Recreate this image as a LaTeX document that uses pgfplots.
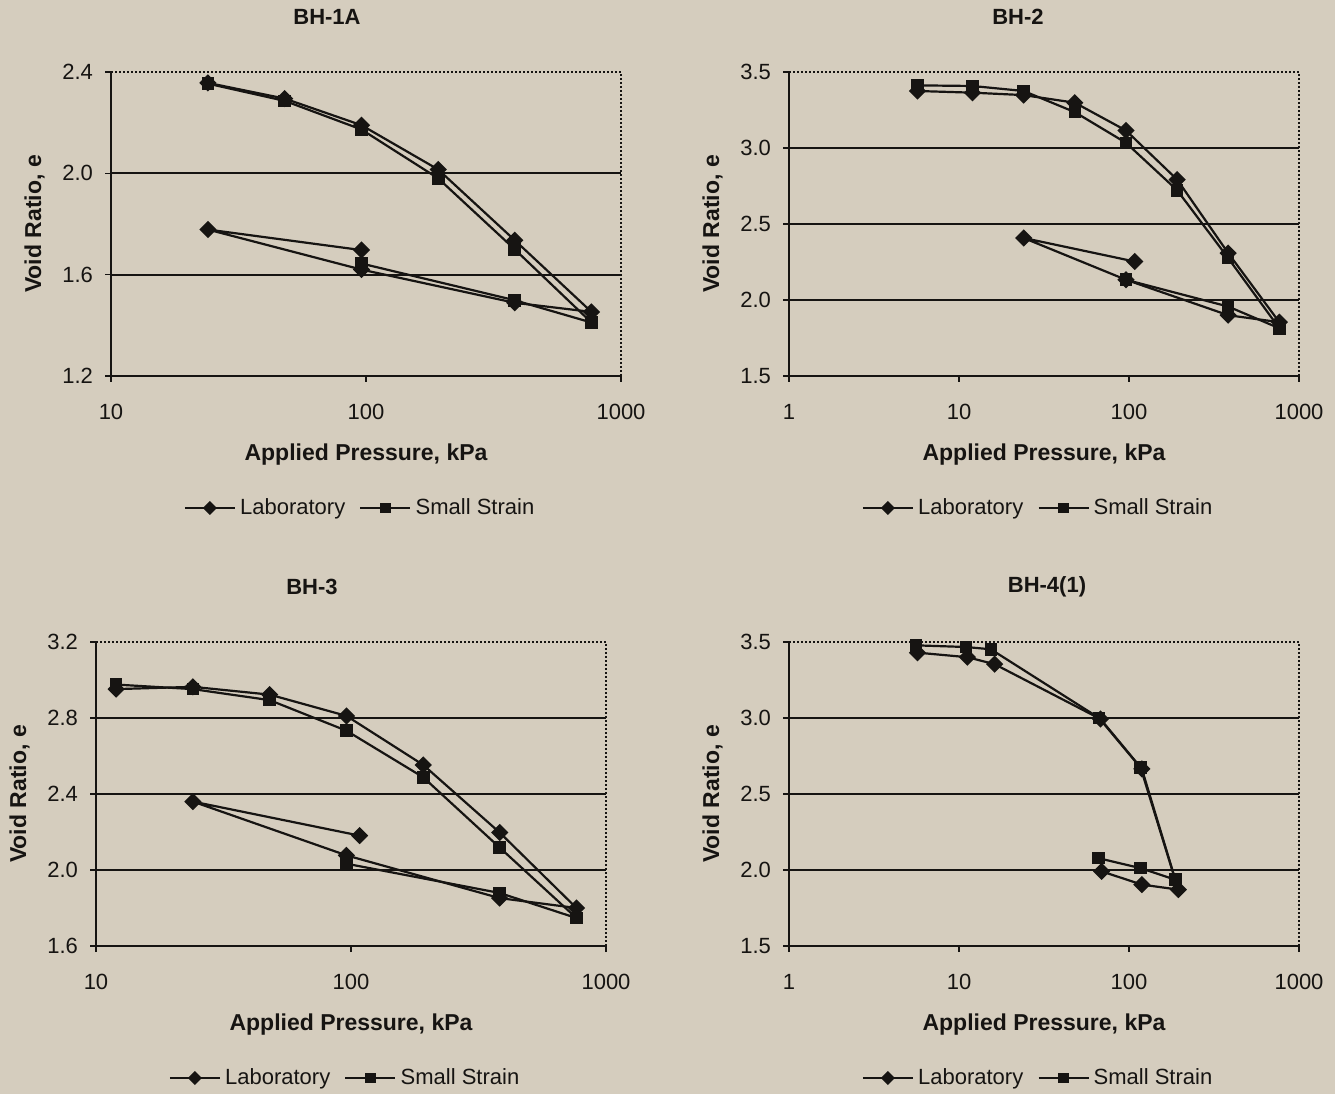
\documentclass[border=0pt]{standalone}
\usepackage{fontspec}
\setmainfont{Liberation Sans}
\usepackage{pgfplots}
\pgfplotsset{compat=1.18}
\definecolor{paper}{RGB}{213,205,190}
\definecolor{ink}{RGB}{22,20,18}

\pgfplotsset{
  oedo/.style={
    scale only axis, width=255pt, height=152pt, anchor=south west,
    minor x tick style={draw=none},
    axis x line*=bottom, axis y line*=left,
    axis line style={ink, line width=1.1pt},
    tick style={ink, line width=0.8pt}, tick align=outside, major tick length=3pt,
    tick label style={font=\fontsize{11}{13}\selectfont, text=ink,
      /pgf/number format/assume math mode=true},
    xticklabel style={/pgf/number format/1000 sep={}, yshift=-7.5pt},
    yticklabel style={/pgf/number format/fixed, /pgf/number format/fixed zerofill,
      /pgf/number format/precision=1, xshift=-2.5pt},
    extra y tick labels={},
    extra y tick style={grid=major, major tick length=0pt},
    major grid style={ink, line width=0.9pt},
    xlabel={Applied Pressure, kPa},
    ylabel={Void Ratio, e},
    label style={font=\bfseries\fontsize{11.5}{13}\selectfont, text=ink},
    xlabel style={at={(axis description cs:0.5,0)}, anchor=center, yshift=-39.5pt},
    ylabel style={at={(axis description cs:-0.15,0.5)}, anchor=center},
    title style={at={(axis description cs:0.5,1)}, anchor=center, yshift=21.5pt,
      font=\bfseries\fontsize{11}{13}\selectfont, text=ink},
    legend style={at={(axis description cs:0.5,0)}, anchor=center, yshift=-66pt, xshift=-2.5pt,
      draw=none, fill=none, font=\fontsize{11}{13}\selectfont, text=ink,
      /tikz/every even column/.append style={column sep=5pt}},
    legend columns=2,
    legend image code/.code={\draw[mark repeat=2, mark phase=2, ##1, line width=1.2pt,
      /tikz/every mark/.append style={scale=0.75}]
      plot coordinates {(0pt,0pt) (12.5pt,0pt) (25pt,0pt)};},
    after end axis/.code={
      \draw[ink, line width=1pt, dash pattern=on 1pt off 1pt]
        (rel axis cs:0,1) -- (rel axis cs:1,1) -- (rel axis cs:1,0);
    },
  },
  lab/.style={ink, line width=1.1pt, mark=square*, mark size=2.5pt,
    mark options={rotate=45, fill=ink, solid}},
  ss/.style={ink, line width=1.1pt, mark=square*, mark size=2.6pt,
    mark options={fill=ink, solid}},
}

\begin{document}
\begin{tikzpicture}
\useasboundingbox (0,0) rectangle (667.5pt,547pt);
\fill[paper] (0,0) rectangle (667.5pt,547pt);

% BH-1A
\begin{axis}[xmode=log, log ticks with fixed point, oedo, at={(55.5pt,359pt)},
  xmin=10, xmax=1000, xtick={10,100,1000},
  ymin=1.2, ymax=2.4, ytick={1.2,1.6,2.0,2.4}, extra y ticks={1.6,2.0},
  title={BH-1A}, title style={xshift=-19.5pt}]
\addplot[lab] coordinates {(24,2.357) (48,2.295) (96,2.19) (192,2.015) (383,1.736) (766,1.453) (383,1.489) (96,1.62) (24,1.778) (96,1.697)};
\addplot[ss] coordinates {(24,2.354) (48,2.286) (96,2.173) (192,1.98) (383,1.70) (766,1.411) (383,1.499) (96,1.644)};
\legend{Laboratory, Small Strain}
\end{axis}

% BH-2
\begin{axis}[xmode=log, log ticks with fixed point, oedo, at={(394.5pt,359pt)},
  xmin=1, xmax=1000, xtick={1,10,100,1000},
  ymin=1.5, ymax=3.5, ytick={1.5,2.0,2.5,3.0,3.5}, extra y ticks={2.0,2.5,3.0},
  title={BH-2}, title style={xshift=-13pt}]
\addplot[lab] coordinates {(5.7,3.375) (12,3.364) (24,3.348) (48,3.298) (96,3.115) (192,2.792) (383,2.309) (766,1.854) (383,1.90) (96,2.133) (24,2.408) (108,2.253)};
\addplot[ss] coordinates {(5.7,3.412) (12,3.408) (24,3.375) (48,3.236) (96,3.034) (192,2.722) (383,2.276) (766,1.814) (383,1.957) (96,2.133)};
\legend{Laboratory, Small Strain}
\end{axis}

% BH-3
\begin{axis}[xmode=log, log ticks with fixed point, oedo, at={(48pt,74pt)},
  xmin=10, xmax=1000, xtick={10,100,1000},
  ymin=1.6, ymax=3.2, ytick={1.6,2.0,2.4,2.8,3.2}, extra y ticks={2.0,2.4,2.8},
  title={BH-3}, title style={xshift=-19.5pt}]
\addplot[lab] coordinates {(12,2.952) (24,2.964) (48,2.923) (96,2.811) (192,2.553) (383,2.197) (766,1.80) (383,1.852) (96,2.077) (24,2.36) (108,2.181)};
\addplot[ss] coordinates {(12,2.976) (24,2.952) (48,2.894) (96,2.733) (192,2.488) (383,2.118) (766,1.747) (383,1.879) (96,2.033)};
\legend{Laboratory, Small Strain}
\end{axis}

% BH-4(1)
\begin{axis}[xmode=log, log ticks with fixed point, oedo, at={(394.5pt,74pt)},
  xmin=1, xmax=1000, xtick={1,10,100,1000},
  ymin=1.5, ymax=3.5, ytick={1.5,2.0,2.5,3.0,3.5}, extra y ticks={2.0,2.5,3.0},
  title={BH-4(1)}, title style={xshift=1.5pt}]
\addplot[lab] coordinates {(5.7,3.43) (11.2,3.40) (16.2,3.354) (68,2.993) (119,2.665) (195,1.871) (119,1.904) (69,1.991)};
\addplot[ss] coordinates {(5.6,3.478) (11,3.467) (15.4,3.452) (66.5,3.001) (117,2.673) (187,1.936) (117,2.012) (66,2.078)};
\legend{Laboratory, Small Strain}
\end{axis}
\end{tikzpicture}
\end{document}
